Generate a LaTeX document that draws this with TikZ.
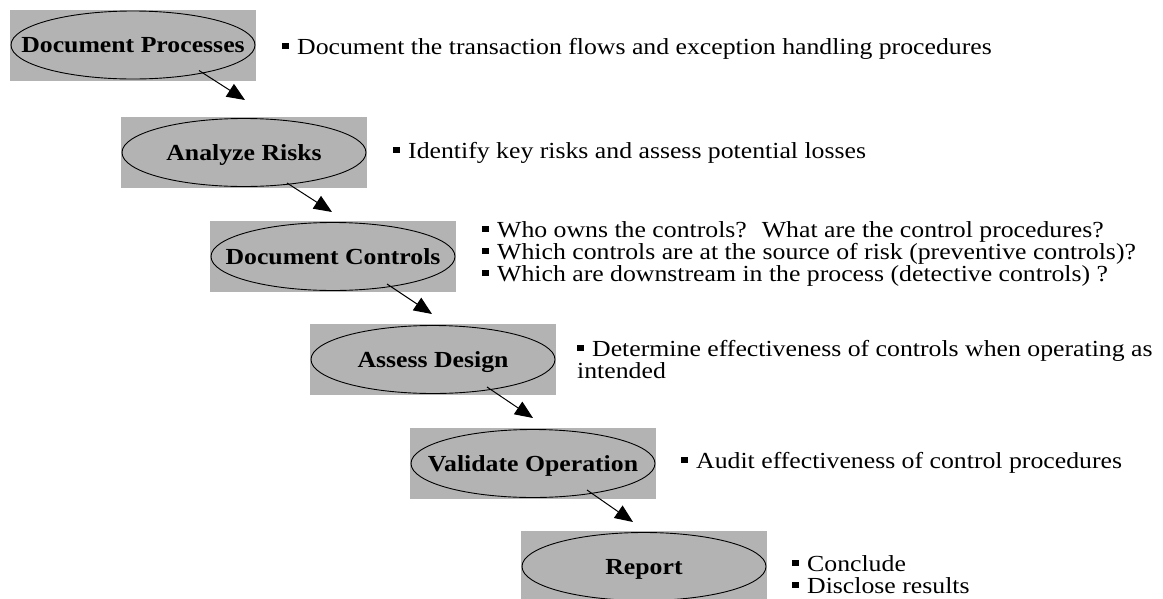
\documentclass[tikz,border=0pt]{standalone}
\usepackage{fontspec}
\setmainfont{Liberation Serif}[FakeStretch=1.12]
\usetikzlibrary{calc,arrows.meta}
\definecolor{boxgray}{HTML}{B3B3B3}
\newcommand{\bul}{\rule[5pt]{6.5pt}{6.5pt}\hspace{8.5pt}}
\tikzset{
  stepbox/.style={rectangle, fill=boxgray, minimum width=246pt, minimum height=71pt,
    inner sep=0pt, font=\fontsize{23}{22}\selectfont\bfseries, text height=15.5pt, text depth=0pt},
  ellline/.style={draw=black, line width=0.9pt},
  arr/.style={draw=black, line width=1pt, -{Triangle[length=18pt,width=15pt]}},
  txt/.style={anchor=base west, inner sep=0pt, font=\fontsize{23}{22}\selectfont}
}
\begin{document}
\begin{tikzpicture}[x=1pt,y=-1pt]
\useasboundingbox (0,0) rectangle (1163,598);
% steps
\node[stepbox] (b1) at (133,45) {Document Processes};
\node[stepbox] (b2) at (244,152.5) {Analyze Risks};
\node[stepbox] (b3) at (333,256.5) {Document Controls};
\node[stepbox] (b4) at (433,359.5) {Assess Design};
\node[stepbox] (b5) at (533,463.5) {Validate Operation};
\node[stepbox] (b6) at (644,566.5) {Report};
\foreach \b in {b1,b2,b3,b4,b5,b6}
  \draw[ellline] (\b.center) ellipse [x radius=122pt, y radius=34pt];
% arrows
\draw[arr] ($(b1.center)+(66,25.5)$) -- ($(b2.center)+(1,-52.5)$);
\draw[arr] ($(b2.center)+(43,30.5)$) -- ($(b3.center)+(-1,-44.5)$);
\draw[arr] ($(b3.center)+(54,27.5)$) -- ($(b4.center)+(-1,-45.5)$);
\draw[arr] ($(b4.center)+(54,27.5)$) -- ($(b5.center)+(0,-45.5)$);
\draw[arr] ($(b5.center)+(54,26.5)$) -- ($(b6.center)+(-11,-44.5)$);
% texts
\node[txt] (t1) at (282,54) {\bul Document the transaction flows and exception handling procedures};
\node[txt] (t2) at (393,158) {\bul Identify key risks and assess potential losses};
\node[txt] (t3a) at (482,237) {\bul Who owns the controls?~ What are the control procedures?};
\node[txt] (t3b) at (482,259) {\bul Which controls are at the source of risk (preventive controls)?};
\node[txt] (t3c) at (482,281) {\bul Which are downstream in the process (detective controls) ?};
\node[txt] (t4a) at (577,356) {\bul Determine effectiveness of controls when operating as};
\node[txt] (t4b) at (577,378) {intended};
\node[txt] (t5) at (681,468) {\bul Audit effectiveness of control procedures};
\node[txt] (t6a) at (792,571) {\bul Conclude};
\node[txt] (t6b) at (792,593) {\bul Disclose results};
\end{tikzpicture}
\end{document}
